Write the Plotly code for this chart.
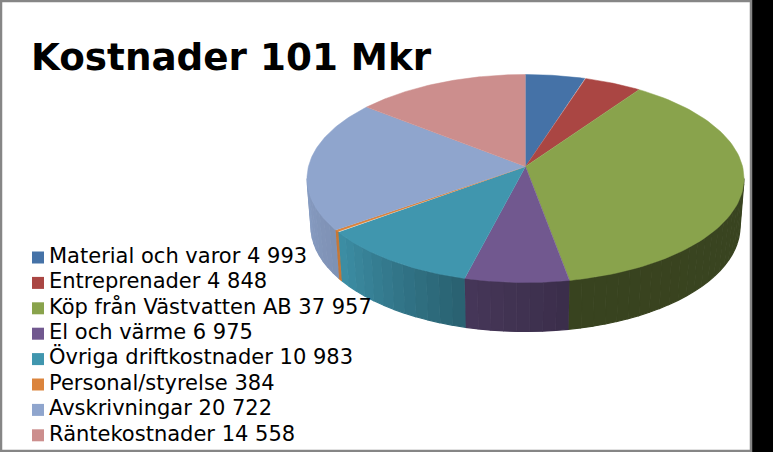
import numpy as np
import plotly.graph_objects as go

# cost categories, in the order they run clockwise from twelve o'clock
categories = ["Material och varor", "Entreprenader", "Köp från Västvatten AB", "El och värme",
              "Övriga driftkostnader", "Personal/styrelse", "Avskrivningar", "Räntekostnader"]
values = [4993, 4848, 37957, 6975, 10983, 384, 20722, 14558]
colors = ["#4572A7", "#AA4643", "#89A34C", "#71588F", "#4096AE", "#DB843D", "#8FA5CD", "#CC8E8D"]
title = "Kostnader 101 Mkr"

# side wall brightness (clockwise start, end) for each slice
side_shade = [(.5, .5), (.5, .5), (.42, .41), (.52, .62), (.64, .95), (.9, .9), (.88, .95), (.9, .9)]

# pie geometry in page pixels
cx, cy = 525.5, 178.5
rx, ry = 218.5, 104.0
k = 12.0 / ry   # perspective, moves the apex above the centre of the ellipse
depth = 48.0
rx_low, ry_low = 214.5, 105.0


def rim(theta, a=rx, b=ry, y0=cy):
    # clockwise angle from the top -> point on the tilted circle
    u, v = np.sin(theta), np.cos(theta)
    w = 1 + k * v
    return cx + a * np.sqrt(1 - k ** 2) * u / w, y0 - b * (v + k) / w


def shade(color, f):
    r, g, b = [int(color[i:i + 2], 16) for i in (1, 3, 5)]
    return f"rgb({r * f:.0f},{g * f:.0f},{b * f:.0f})"


fig = go.Figure()
edges = 2 * np.pi * np.concatenate([[0], np.cumsum(values)]) / sum(values)
front_from, front_to = np.arccos(-k), 2 * np.pi - np.arccos(-k)

# side walls, cut into narrow strips to get the banded shading
for i, color in enumerate(colors):
    start, end = max(edges[i], front_from), min(edges[i + 1], front_to)
    if start >= end:
        continue
    n = max(1, int(np.degrees(end - start) / 3))
    steps = np.linspace(start, end, n + 1)
    for j in range(n):
        t = np.linspace(steps[j], steps[j + 1], 4)
        x1, y1 = rim(t)
        x2, y2 = rim(t[::-1], rx_low, ry_low, cy + depth)
        f = side_shade[i][0] + (side_shade[i][1] - side_shade[i][0]) * (j + .5) / n
        c = shade(color, f)
        fig.add_trace(go.Scatter(x=np.r_[x1, x2], y=np.r_[y1, y2], mode="lines", fill="toself",
                                 fillcolor=c, line=dict(color=c, width=1.2), hoverinfo="skip"))

# top face
apex_x, apex_y = cx, cy - ry * k
for i, color in enumerate(colors):
    t = np.linspace(edges[i], edges[i + 1], 80)
    x, y = rim(t)
    fig.add_trace(go.Scatter(x=np.r_[apex_x, x], y=np.r_[apex_y, y], mode="lines", fill="toself",
                             fillcolor=color, line=dict(color=color, width=.5), hoverinfo="skip"))

# legend, drawn by hand because the rows sit much tighter than plotly's own legend allows
labels = [f"{c} {v:,}".replace(",", " ") for c, v in zip(categories, values)]
legend_y = 257.5 + 25.4 * np.arange(len(labels))
fig.add_trace(go.Scatter(x=[38] * len(labels), y=legend_y, mode="markers",
                         marker=dict(symbol="square", size=12, color=colors), hoverinfo="skip"))
fig.add_trace(go.Scatter(x=[49] * len(labels), y=legend_y, mode="text", text=labels,
                         textposition="middle right", hoverinfo="skip",
                         textfont=dict(family="DejaVu Sans", size=21, color="black")))

fig.update_layout(
    width=773, height=452, margin=dict(l=0, r=0, t=0, b=0),
    paper_bgcolor="black", plot_bgcolor="black", showlegend=False,
    xaxis=dict(range=[0, 773], visible=False, fixedrange=True),
    yaxis=dict(range=[452, 0], visible=False, fixedrange=True),
    title=dict(text=f"<b>{title}</b>", x=31 / 773, xanchor="left", y=1 - 57 / 452, yanchor="middle",
               font=dict(family="DejaVu Sans", size=37.3, color="black")),
    shapes=[dict(type="rect", xref="x", yref="y", x0=1, x1=751, y0=1, y1=451, layer="below",
                 fillcolor="white", line=dict(color="#868686", width=2.5)),
            dict(type="rect", xref="x", yref="y", x0=0, x1=752, y0=450, y1=452, layer="below",
                 fillcolor="#868686", line=dict(width=0))],
)

fig.write_html("out.html", config=dict(displayModeBar=False),
               post_script="document.body.style.margin='0';")
